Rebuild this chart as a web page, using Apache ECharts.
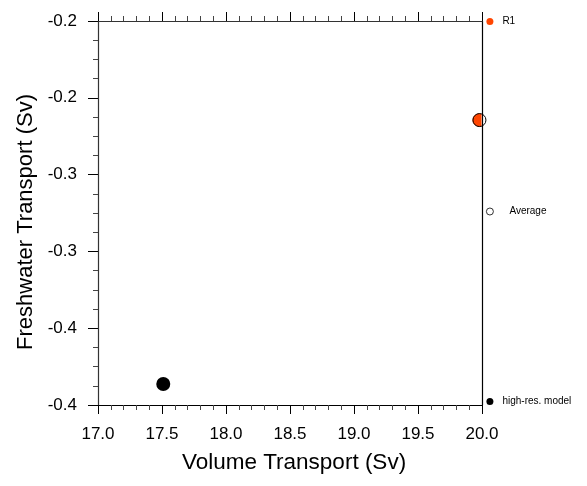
<!DOCTYPE html>
<html><head><meta charset="utf-8">
<script src="https://cdn.jsdelivr.net/npm/echarts@6/dist/echarts.min.js"></script>
<style>html,body{margin:0;padding:0;background:#fff}#c{width:587px;height:486px}</style>
</head><body><div id="c"></div>
<script>
const seriesNames = ['R1', 'Average', 'high-res. model'];
const r1Point = [[19.98, -0.2645]];
const averagePoint = [[19.98, -0.2645]];
const highResPoint = [[17.51, -0.4363]];
const xTickValues = [17.0, 17.5, 18.0, 18.5, 19.0, 19.5, 20.0];
const yTickLabels = ['-0.4', '-0.4', '-0.3', '-0.3', '-0.2', '-0.2'];

const F = 'Liberation Sans, Arial, Helvetica, sans-serif';
// circle cut at the plot's right border (the R1 marker is clipped by the frame)
const cutCircle = 'path://M2.1 -6.68 A7 7 0 1 0 2.1 6.68 Z';
const chart = echarts.init(document.getElementById('c'));
chart.setOption({
  animation: false,
  textStyle: {fontFamily: F},
  grid: {left: 98, right: 105, top: 21, bottom: 81},
  legend: {
    orient: 'vertical', left: 481, top: 11.5,
    itemWidth: 7, itemHeight: 7, itemGap: 180,
    textStyle: {fontFamily: F, fontSize: 10, color: '#000', padding: [0, 0, 0, 4]},
    data: [
      {name: 'R1', icon: 'circle', itemStyle: {color: '#ff4500'}},
      {name: 'Average', icon: 'circle', itemStyle: {color: '#fff', borderColor: '#000', borderWidth: 0.8},
        textStyle: {padding: [0, 0, 0, 11]}},
      {name: 'high-res. model', icon: 'circle', itemStyle: {color: '#000'}}
    ],
    selectedMode: false
  },
  xAxis: [{
    type: 'value', min: 17, max: 20, interval: 0.5, position: 'bottom',
    name: 'Volume Transport (Sv)', nameLocation: 'middle', nameGap: 46,
    nameTextStyle: {fontSize: 22.5, color: '#000', fontFamily: F, padding: [0, 0, 0, 8]},
    axisLine: {lineStyle: {color: '#000', width: 1.2}},
    axisTick: {show: true, length: 9, lineStyle: {color: '#000'}},
    minorTick: {show: true, splitNumber: 5, length: 5, lineStyle: {color: '#444'}},
    splitLine: {show: false},
    axisLabel: {fontSize: 17, color: '#000', margin: 21, fontFamily: F,
      formatter: v => xTickValues.includes(v) ? v.toFixed(1) : ''}
  }, {
    type: 'value', min: 17, max: 20, interval: 0.5, position: 'top',
    axisLine: {show: true, lineStyle: {color: '#333', width: 1.2}},
    axisTick: {show: true, length: 9, lineStyle: {color: '#000'}},
    minorTick: {show: true, splitNumber: 5, length: 5, lineStyle: {color: '#444'}},
    splitLine: {show: false}, axisLabel: {show: false}
  }],
  yAxis: [{
    type: 'value', min: -0.45, max: -0.2, interval: 0.05, position: 'left',
    name: 'Freshwater Transport (Sv)', nameLocation: 'middle', nameGap: 59,
    nameTextStyle: {fontSize: 22, color: '#000', fontFamily: F, padding: [0, 18, 0, 0]},
    axisLine: {show: true, lineStyle: {color: '#333', width: 1.2}},
    axisTick: {show: true, length: 10, lineStyle: {color: '#000'}},
    minorTick: {show: true, splitNumber: 4, length: 5, lineStyle: {color: '#444'}},
    splitLine: {show: false},
    axisLabel: {fontSize: 17, color: '#000', margin: 21, fontFamily: F,
      formatter: (v, i) => yTickLabels[i]}
  }, {
    type: 'value', min: -0.45, max: -0.2, interval: 0.05, position: 'right',
    axisLine: {show: true, lineStyle: {color: '#000', width: 1.2}},
    axisTick: {show: false}, splitLine: {show: false}, axisLabel: {show: false}
  }],
  series: [{
    name: seriesNames[0], type: 'scatter', data: r1Point, symbol: cutCircle,
    symbolSize: [9.1, 13.36], symbolOffset: [-2.45, 0], z: 2,
    itemStyle: {color: '#ff4500', opacity: 1}
  }, {
    name: seriesNames[1], type: 'scatter', data: averagePoint, symbol: 'circle',
    symbolSize: 13, clip: false, z: 3,
    itemStyle: {color: 'rgba(0,0,0,0)', borderColor: '#000', borderWidth: 1, opacity: 1}
  }, {
    name: seriesNames[2], type: 'scatter', data: highResPoint, symbol: 'circle',
    symbolSize: 14, z: 2,
    itemStyle: {color: '#000', opacity: 1}
  }]
});
</script></body></html>
